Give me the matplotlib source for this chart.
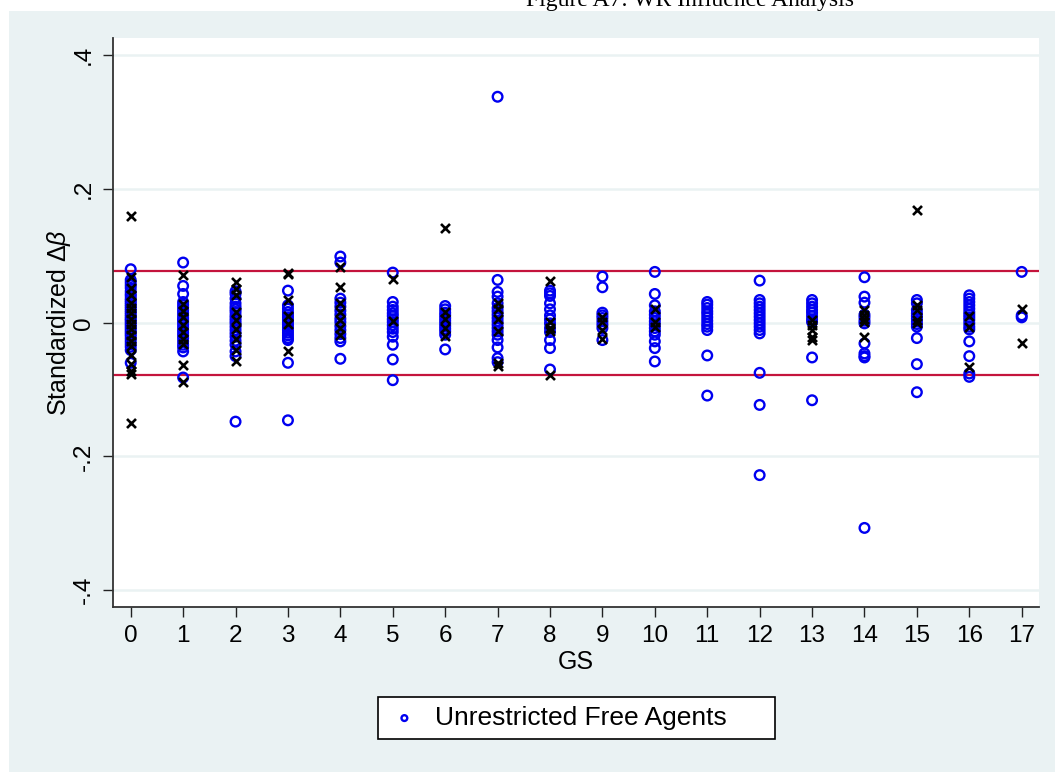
import matplotlib
matplotlib.use("Agg")
import matplotlib.pyplot as plt
from matplotlib.patches import Rectangle

plt.rcParams['font.family'] = ['Liberation Sans', 'DejaVu Sans']
plt.rcParams['mathtext.fontset'] = 'custom'
plt.rcParams['mathtext.rm'] = 'Liberation Sans'
plt.rcParams['mathtext.it'] = 'Liberation Sans:italic'

# GS categories on the x axis
gs_levels = list(range(18))

# standardized delta-beta, unrestricted free agents (blue circles), one list per GS
ufa_vals = [
    [0.080, 0.064, 0.060, 0.056, 0.052, 0.047, 0.043, 0.040, 0.036, 0.033, 0.030, 0.027,
     0.024, 0.021, 0.018, 0.015, 0.012, 0.009, 0.006, 0.004, 0.001, -0.002, -0.005, -0.008,
     -0.011, -0.014, -0.017, -0.020, -0.024, -0.028, -0.032, -0.036, -0.041, -0.060],
    [0.090, 0.055, 0.043, 0.031, 0.027, 0.023, 0.019, 0.015, 0.011, 0.007, 0.004, 0.001,
     -0.003, -0.007, -0.011, -0.015, -0.019, -0.023, -0.028, -0.033, -0.037, -0.043, -0.082],
    [0.047, 0.043, 0.036, 0.029, 0.024, 0.020, 0.016, 0.011, 0.007, 0.003, -0.001, -0.006,
     -0.011, -0.016, -0.021, -0.027, -0.033, -0.043, -0.050, -0.148],
    [0.048, 0.026, 0.021, 0.016, 0.012, 0.008, 0.004, 0.001, -0.003, -0.007, -0.011, -0.015,
     -0.019, -0.023, -0.026, -0.060, -0.146],
    [0.099, 0.090, 0.036, 0.030, 0.024, 0.018, 0.012, 0.006, 0.001, -0.005, -0.011, -0.017,
     -0.023, -0.028, -0.054],
    [0.075, 0.031, 0.024, 0.019, 0.014, 0.010, 0.005, 0.001, -0.004, -0.009, -0.014, -0.021,
     -0.033, -0.055, -0.086],
    [0.025, 0.020, 0.015, 0.011, 0.007, 0.003, -0.001, -0.005, -0.009, -0.013, -0.018, -0.040],
    [0.338, 0.064, 0.046, 0.039, 0.029, 0.022, 0.017, 0.012, 0.007, 0.002, -0.003, -0.008,
     -0.013, -0.018, -0.026, -0.037, -0.053, -0.059],
    [0.048, 0.044, 0.040, 0.029, 0.020, 0.011, 0.005, -0.001, -0.008, -0.014, -0.026, -0.038, -0.070],
    [0.069, 0.053, 0.015, 0.011, 0.007, 0.002, -0.003, -0.008, -0.026],
    [0.076, 0.043, 0.026, 0.017, 0.012, 0.007, 0.002, -0.003, -0.008, -0.013, -0.018, -0.028,
     -0.038, -0.058],
    [0.031, 0.027, 0.022, 0.017, 0.013, 0.008, 0.003, -0.002, -0.006, -0.011, -0.049, -0.109],
    [0.063, 0.034, 0.029, 0.024, 0.019, 0.014, 0.009, 0.004, -0.001, -0.006, -0.011, -0.016,
     -0.075, -0.123, -0.228],
    [0.034, 0.029, 0.024, 0.019, 0.015, 0.010, 0.005, 0.001, -0.052, -0.116],
    [0.068, 0.039, 0.030, 0.012, 0.008, 0.003, -0.001, -0.031, -0.046, -0.050, -0.052, -0.307],
    [0.034, 0.029, 0.019, 0.014, 0.010, 0.006, 0.002, -0.002, -0.006, -0.023, -0.062, -0.104],
    [0.041, 0.036, 0.031, 0.026, 0.021, 0.016, 0.012, 0.008, 0.004, -0.001, -0.006, -0.010,
     -0.028, -0.050, -0.076, -0.081],
    [0.076, 0.011, 0.008],
]

# other players (black crosses), one list per GS
other_vals = [
    [0.159, 0.069, 0.052, 0.041, 0.030, 0.022, 0.014, 0.006, -0.002, -0.010, -0.019, -0.027,
     -0.035, -0.049, -0.062, -0.073, -0.076, -0.150],
    [0.072, 0.028, 0.018, 0.008, -0.004, -0.014, -0.024, -0.032, -0.064, -0.089],
    [0.061, 0.051, 0.041, 0.016, 0.004, -0.010, -0.024, -0.041, -0.058],
    [0.075, 0.073, 0.034, 0.010, -0.002, -0.042],
    [0.083, 0.053, 0.029, 0.016, 0.004, -0.008, -0.018],
    [0.066, 0.003],
    [0.141, 0.016, 0.006, -0.008, -0.020],
    [0.029, 0.021, 0.006, -0.012, -0.061, -0.065],
    [0.062, 0.001, -0.008, -0.013, -0.078],
    [0.009, 0.001, -0.011, -0.025],
    [0.021, 0.001, -0.006],
    [],
    [],
    [0.004, -0.003, -0.011, -0.021, -0.026],
    [0.019, 0.011, 0.006, 0.001, -0.022],
    [0.168, 0.026, 0.019, 0.004, -0.001],
    [0.010, -0.007, -0.066],
    [0.021, -0.031],
]

cutoff = 0.0778  # red reference lines at +/- cutoff
y_ticks = [-0.4, -0.2, 0, 0.2, 0.4]
y_ticklabels = ['-.4', '-.2', '0', '.2', '.4']

bg = '#eaf2f3'

fig = plt.figure(figsize=(10.55, 7.72), dpi=100)
fig.patches.append(Rectangle((9 / 1055, 0), 1, (772 - 11) / 772, transform=fig.transFigure,
                             facecolor=bg, edgecolor='none', zorder=-10))
ax = fig.add_axes([113 / 1055, (772 - 607) / 772, (1039 - 113) / 1055, (607 - 38) / 772])
ax.set_facecolor('white')

ux, uy, ox, oy = [], [], [], []
for g in gs_levels:
    ux += [g] * len(ufa_vals[g])
    uy += ufa_vals[g]
    ox += [g] * len(other_vals[g])
    oy += other_vals[g]

for yv in y_ticks:
    ax.axhline(yv, color=bg, lw=1.8, zorder=0)
ax.axhline(cutoff, color='#c4143c', lw=1.6, zorder=1)
ax.axhline(-cutoff, color='#c4143c', lw=1.6, zorder=1)

ax.scatter(ux, uy, s=48, facecolors='none', edgecolors='#0000f0', linewidths=1.7,
           zorder=3, label='Unrestricted Free Agents')
ax.scatter(ox, oy, s=42, marker='x', color='black', linewidths=1.9, zorder=4)

ax.set_xlim(-0.338, 17.33)
ax.set_ylim(-0.4253, 0.4259)
ax.set_xticks(gs_levels)
ax.set_yticks(y_ticks)
ax.set_yticklabels(y_ticklabels, rotation=90, va='center')
ax.tick_params(axis='both', direction='out', length=7, width=1, color='#222222',
               labelsize=17.5, pad=6)
for s in ['top', 'right']:
    ax.spines[s].set_visible(False)
for s in ['left', 'bottom']:
    ax.spines[s].set_color('#333333')
    ax.spines[s].set_linewidth(1.3)

ax.set_xlabel('GS', fontsize=18, labelpad=2)
ax.set_ylabel('Standardized $\\mathit{Δβ}$', fontsize=18, labelpad=0)

fig.text(690 / 1055, (772 - 6) / 772, 'Figure A7: WR Influence Analysis', family='Liberation Serif',
         fontsize=17, ha='center', va='baseline')

leg = fig.legend(loc='center', bbox_to_anchor=(378 / 1055, (772 - 743) / 772, 397 / 1055, 50 / 772),
                 mode='expand', borderaxespad=0, fontsize=19, frameon=True, fancybox=False,
                 framealpha=1, markerscale=0.6, handletextpad=0.5, borderpad=0.35,
                 handlelength=1.3)
leg.get_frame().set_edgecolor('black')
leg.get_frame().set_facecolor('white')
leg.get_frame().set_linewidth(1.2)

fig.savefig('out.png', dpi=100)
